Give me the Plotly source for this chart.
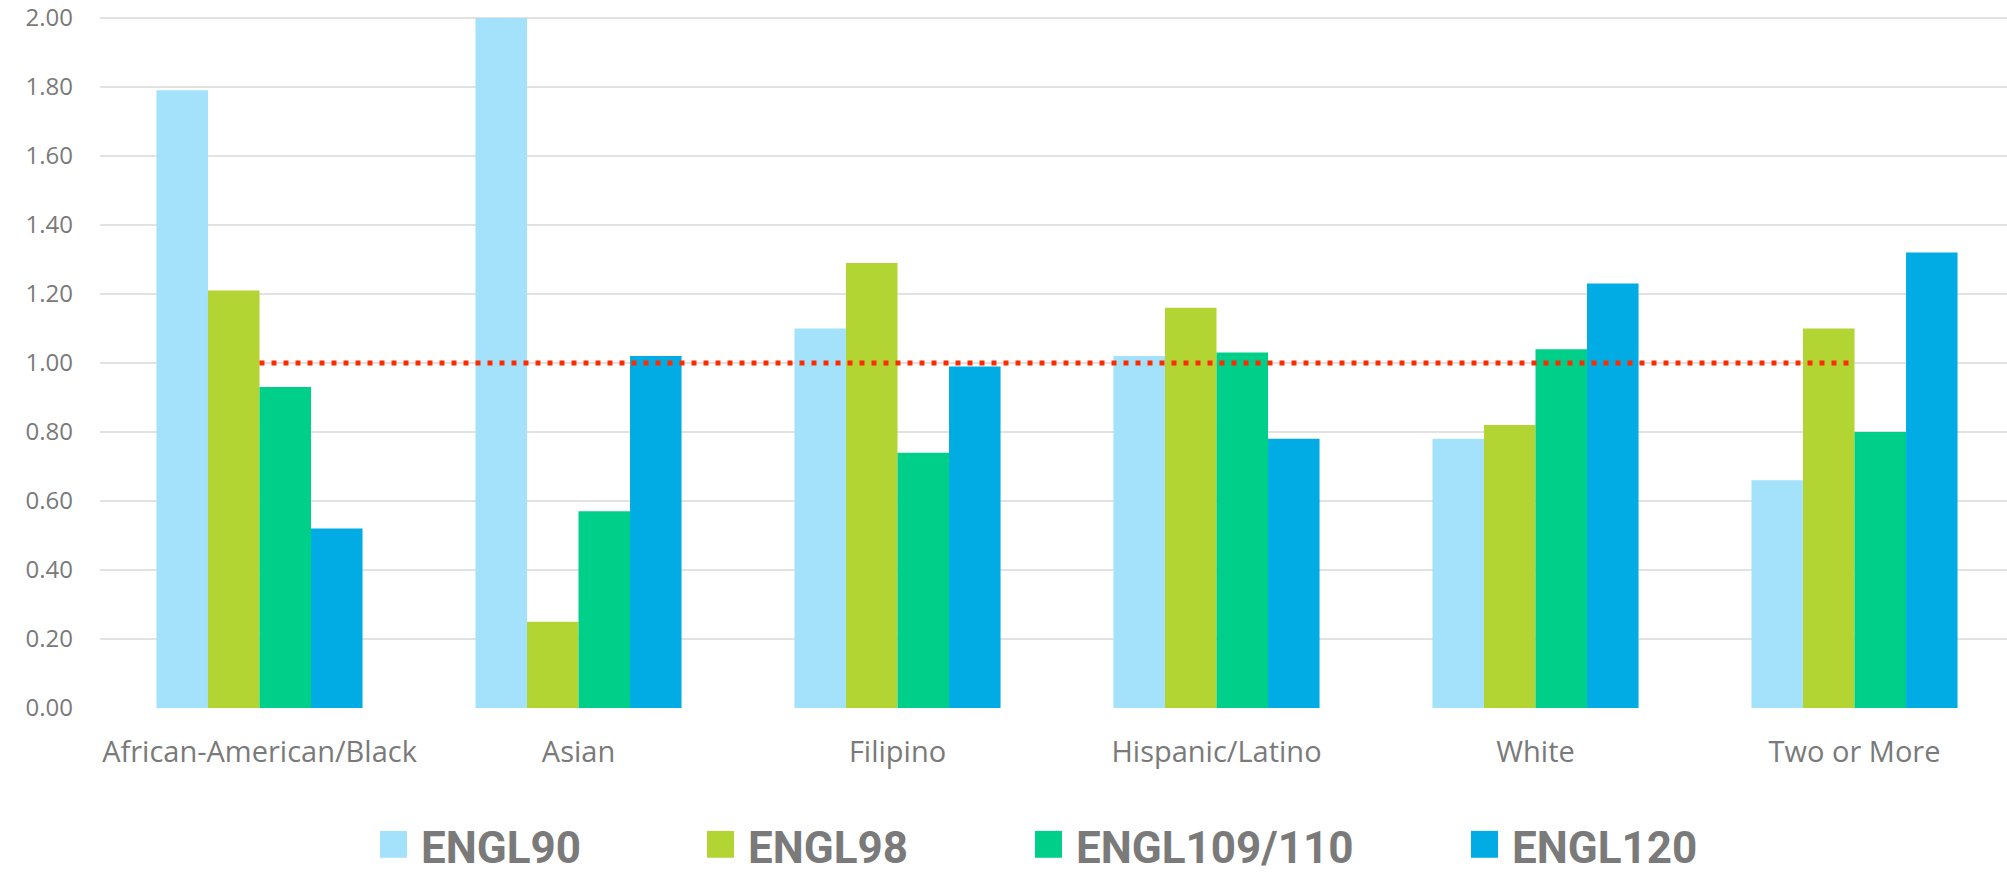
import plotly.graph_objects as go

# Ratio by ethnicity for each English course
categories = ["African-American/Black", "Asian", "Filipino",
              "Hispanic/Latino", "White", "Two or More"]
courses = ["ENGL90", "ENGL98", "ENGL109/110", "ENGL120"]
engl90 = [1.79, 2.00, 1.10, 1.02, 0.78, 0.66]
engl98 = [1.21, 0.25, 1.29, 1.16, 0.82, 1.10]
engl109_110 = [0.93, 0.57, 0.74, 1.03, 1.04, 0.80]
engl120 = [0.52, 1.02, 0.99, 0.78, 1.23, 1.32]
parity = 1.0  # reference level drawn as the dotted line
y_ticks = [0.0, 0.2, 0.4, 0.6, 0.8, 1.0, 1.2, 1.4, 1.6, 1.8, 2.0]

series = [engl90, engl98, engl109_110, engl120]
colors = ["#A4E1FB", "#B2D534", "#00CF89", "#00ACE3"]

W, H = 2007, 874
Y_TOP = 2.02
ML, MR, MB = 100, 0, 165.5
MT = 15 - (Y_TOP - 2.0) * (H - MB - 15) / 2.0
PW, PH = W - ML - MR, H - MT - MB
TEXT_GREY = "#7a7a7a"

fig = go.Figure()
for name, vals, col in zip(courses, series, colors):
    fig.add_trace(go.Bar(
        x=categories, y=vals, name=name,
        marker=dict(color=col, line=dict(width=0)),
        showlegend=False,
    ))

fig.add_trace(go.Scatter(
    x=[categories[0], categories[-1]], y=[parity, parity],
    mode="lines", showlegend=False,
    line=dict(color="#FF2A00", width=5, dash="5px,7px"),
))

# Custom legend row below the plot
def px_to_paper_x(px):
    return (px - ML) / PW

def px_to_paper_y(py):
    return (H - MB - py) / PH

legend_left = [380, 707, 1035, 1471]
sq = 27
sq_top, sq_bot = 832, 859
shapes = []
annotations = []
for name, col, lx in zip(courses, colors, legend_left):
    shapes.append(dict(
        type="rect", xref="paper", yref="paper",
        x0=px_to_paper_x(lx), x1=px_to_paper_x(lx + sq),
        y0=px_to_paper_y(sq_bot), y1=px_to_paper_y(sq_top),
        fillcolor=col, line=dict(width=0), layer="above",
    ))
    annotations.append(dict(
        xref="paper", yref="paper",
        x=px_to_paper_x(lx + sq + 12), y=px_to_paper_y(849),
        xanchor="left", yanchor="middle", showarrow=False,
        text=name,
        font=dict(family="Roboto", size=44, color=TEXT_GREY, weight=700),
    ))

fig.update_layout(
    width=W, height=H,
    margin=dict(l=ML, r=MR, t=MT, b=MB, pad=0),
    paper_bgcolor="white", plot_bgcolor="white",
    barmode="group", bargap=0.354, bargroupgap=0,
    showlegend=False,
    shapes=shapes, annotations=annotations,
    font=dict(family="Open Sans", color=TEXT_GREY),
    xaxis=dict(
        type="category", range=[-0.5, 5.478],
        showgrid=False, zeroline=False, showline=False, ticks="",
        tickfont=dict(family="Open Sans", size=29, color=TEXT_GREY),
        ticklabelstandoff=24,
    ),
    yaxis=dict(
        range=[0, Y_TOP], tickvals=y_ticks, tickformat=".2f",
        showgrid=True, gridcolor="#e2e2e2", gridwidth=2,
        zeroline=False, showline=False, ticks="",
        tickfont=dict(family="Open Sans", size=24, color=TEXT_GREY),
        ticklabelstandoff=26, ticklabeloverflow="allow",
    ),
)

fig.write_html("out.html")
